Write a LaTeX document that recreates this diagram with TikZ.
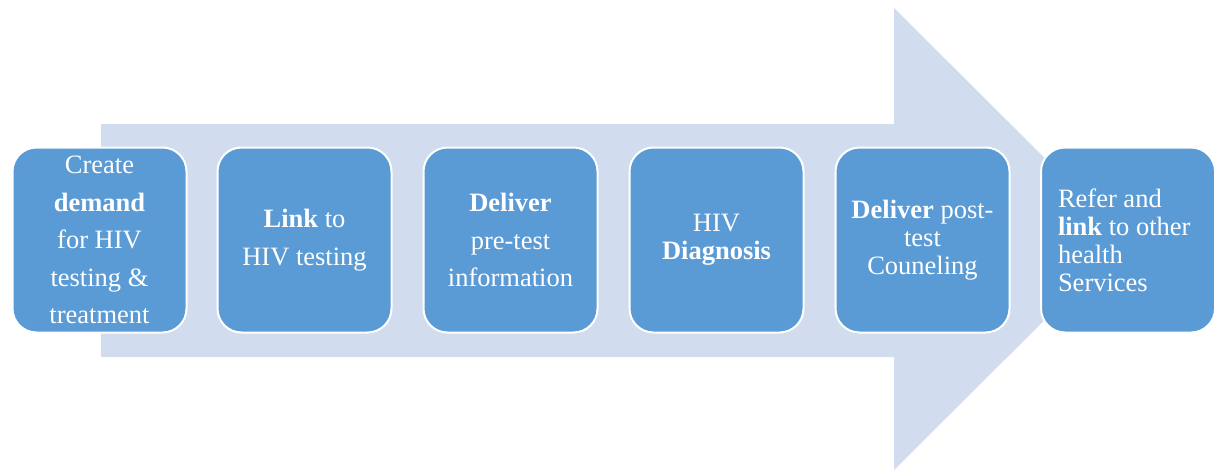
\documentclass[tikz,border=0pt]{standalone}
\usepackage{fontspec}
\setmainfont{Liberation Serif}
\definecolor{stepblue}{HTML}{5B9BD5}
\definecolor{flowbg}{HTML}{D1DDEE}
\tikzset{
  stepbox/.style={rectangle, rounded corners=24pt, fill=stepblue, draw=white,
    line width=2pt, minimum width=174pt, minimum height=185pt,
    text=white, inner sep=0pt, align=center},
  loosetext/.style={font=\fontsize{26.5}{37.5}\selectfont},
  tighttext/.style={font=\fontsize{26.5}{28}\selectfont}
}
\begin{document}
\begin{tikzpicture}[x=1pt,y=-1pt]
  \useasboundingbox (0,0) rectangle (1215,471);
  % large background arrow
  \fill[flowbg] (101,124) -- (894,124) -- (894,8) -- (1126,239)
    -- (894,470) -- (894,357) -- (101,357) -- cycle;
  % process steps
  \node[stepbox, loosetext] (s1) at (99.5,240)
    {Create\\\textbf{demand}\\for HIV\\testing \&\\treatment};
  \node[stepbox, loosetext] (s2) at (304.5,240)
    {\textbf{Link} to\\HIV testing};
  \node[stepbox, loosetext] (s3) at (510.5,240)
    {\textbf{Deliver}\\pre-test\\information};
  \node[stepbox, tighttext] (s4) at (716.5,240)
    {HIV\\\textbf{Diagnosis}};
  \node[stepbox, tighttext] (s5) at (922.5,240)
    {\textbf{Deliver} post-\\test\\Couneling};
  \node[stepbox, tighttext, align=flush left, text width=140pt,
        inner xsep=17pt] (s6) at (1128,240)
    {Refer and\\\textbf{link} to other\\health\\Services};
\end{tikzpicture}
\end{document}
